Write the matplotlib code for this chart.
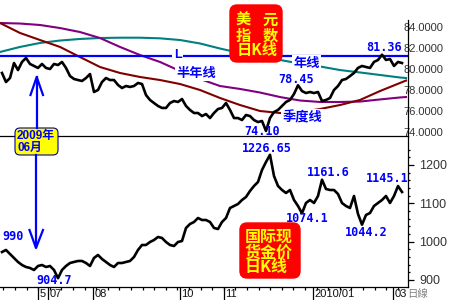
import numpy as np
import matplotlib
matplotlib.use('Agg')
import matplotlib.pyplot as plt
from matplotlib.patches import FancyBboxPatch
from matplotlib.lines import Line2D
from matplotlib.ticker import FixedLocator
import matplotlib.transforms as mtransforms

plt.rcParams['font.family'] = ['Liberation Sans', 'Noto Sans CJK SC', 'DejaVu Sans']

# ---------------- data ----------------
usd_close = [79.62, 78.76, 79.14, 80.57, 79.90, 80.67, 81.05, 80.48, 80.29, 80.10,
             80.48, 80.10, 80.00, 80.48, 80.38, 80.67, 80.10, 79.33, 79.05, 78.95,
             78.86, 79.14, 79.52, 77.81, 78.00, 78.76, 79.14, 78.95, 78.95, 78.48,
             78.19, 78.38, 78.29, 78.38, 78.67, 78.57, 77.52, 77.05, 76.76, 76.48,
             76.29, 76.29, 76.76, 76.95, 76.86, 77.14, 76.48, 76.10, 75.81, 75.81,
             75.52, 75.71, 75.33, 75.81, 76.19, 76.29, 76.76, 76.10, 75.33, 75.33,
             75.14, 75.62, 75.52, 75.14, 74.95, 75.05, 74.10, 75.33, 75.90, 76.10,
             76.48, 76.86, 77.05, 77.62, 78.45, 77.90, 77.71, 77.81, 77.71, 77.81,
             76.95, 77.05, 77.24, 78.00, 78.38, 78.95, 79.05, 79.33, 79.62, 80.10,
             80.29, 80.19, 80.10, 80.67, 80.86, 81.36, 80.86, 80.95, 80.29, 80.67, 80.57]

usd_ma_quarter = [84.38, 83.43, 82.76, 82.10, 81.14, 80.19, 79.62, 79.24, 78.95, 78.57, 78.00,
                  77.24, 76.57, 76.00, 75.81, 75.90, 76.19, 76.57, 77.05, 77.90, 78.67, 78.90]
usd_ma_halfyear = [84.38, 84.33, 84.19, 83.90, 83.52, 82.95, 82.10, 81.33, 80.67, 79.81, 79.05,
                   78.38, 78.10, 77.76, 77.33, 77.00, 76.86, 76.86, 76.90, 77.10, 77.29, 77.33]
usd_ma_year = [81.62, 82.10, 82.48, 82.71, 82.86, 82.95, 82.98, 82.98, 82.92, 82.76, 82.43,
               81.95, 81.52, 81.14, 80.86, 80.52, 80.24, 79.90, 79.67, 79.43, 79.19, 79.14]
ma_days = [0, 10, 20, 30, 40, 50, 60, 70, 80, 90, 100,
           110, 120, 130, 140, 150, 160, 170, 180, 190, 200, 203]
usd_L_level = 81.25

gold_close = [973.0, 978.3, 967.8, 957.4, 947.0, 939.1, 933.9, 931.3, 926.1, 936.5,
              939.1, 933.9, 936.5, 926.1, 904.7, 926.1, 936.5, 944.3, 947.0, 949.6,
              949.6, 944.3, 936.5, 957.4, 965.2, 954.8, 947.0, 939.1, 933.9, 944.3,
              944.3, 947.0, 949.6, 960.0, 978.3, 991.3, 991.3, 999.1, 1004.3, 1012.2,
              1009.6, 999.1, 991.3, 988.7, 999.1, 1001.7, 1035.7, 1046.1, 1051.3, 1061.7,
              1056.5, 1056.5, 1051.3, 1035.7, 1033.0, 1051.3, 1061.7, 1087.8, 1093.0, 1098.3,
              1108.7, 1116.5, 1132.2, 1145.2, 1155.7, 1187.0, 1207.8, 1226.65, 1171.3, 1145.2,
              1134.8, 1127.0, 1134.8, 1108.7, 1093.0, 1074.1, 1100.9, 1108.7, 1100.9, 1119.1,
              1161.6, 1137.4, 1134.8, 1134.8, 1124.3, 1100.9, 1093.0, 1087.8, 1119.1, 1072.2,
              1044.2, 1069.6, 1074.8, 1093.0, 1100.9, 1108.7, 1119.1, 1100.9, 1119.1, 1145.1, 1129.6]

usd_yticks = [74, 76, 78, 80, 82, 84]
gold_yticks = [900, 1000, 1100, 1200]
x_tick_days = [19, 24, 46.5, 90, 112, 156.5, 196.5]
x_tick_labels = ['5', '07', '08', '10', '11', '2010/01', '03']

# ---------------- figure ----------------
fig = plt.figure(figsize=(4.5, 3.0), dpi=100)
fig.patch.set_facecolor('white')
W, H = 450.0, 300.0
axR = 408 / W

ax1 = fig.add_axes([0, 1 - 136 / H, axR, 136 / H])
ax2 = fig.add_axes([0, 1 - 287 / H, axR, 151 / H])

days_close = np.arange(len(usd_close)) * 2 + 1
days_gold = np.arange(len(gold_close)) * 2 + 1

# top panel
ax1.plot(ma_days, usd_ma_year, color='#008080', lw=1.5, zorder=2)
ax1.plot(ma_days, usd_ma_halfyear, color='#800080', lw=1.5, zorder=2)
ax1.plot(ma_days, usd_ma_quarter, color='#800000', lw=1.5, zorder=2)
ax1.axhline(usd_L_level, color='#0000ff', lw=1.6, zorder=3)
ax1.plot(days_close, usd_close, color='black', lw=1.9, zorder=4)
ax1.set_xlim(0, 204)
ax1.set_ylim(73.62, 86.57)

for s in ['left', 'top']:
    ax1.spines[s].set_visible(False)
ax1.spines['right'].set_bounds(73.62, 84.7)
for s in ['right', 'bottom']:
    ax1.spines[s].set_linewidth(0.9)
ax1.set_xticks([])
ax1.yaxis.tick_right()
ax1.set_yticks(usd_yticks)
ax1.set_yticklabels(['%.4f' % v for v in usd_yticks])
ax1.tick_params(axis='y', length=0, pad=-3, labelsize=8, labelcolor='#333333')
ax1.set_facecolor('none')

# bottom panel
ax2.plot(days_gold, gold_close, color='black', lw=1.9, zorder=4)
ax2.set_xlim(0, 204)
ax2.set_ylim(881.7, 1275.65)
for s in ['left', 'top']:
    ax2.spines[s].set_visible(False)
for s in ['right', 'bottom']:
    ax2.spines[s].set_linewidth(0.9)
ax2.yaxis.tick_right()
ax2.set_yticks(gold_yticks)
ax2.yaxis.set_minor_locator(FixedLocator(np.arange(900, 1260, 20)))
ax2.tick_params(axis='y', which='major', direction='out', length=4, width=0.9, pad=4,
                labelsize=9, labelcolor='#333333')
ax2.tick_params(axis='y', which='minor', direction='out', length=1.5, width=0.9)

ax2.set_xticks(x_tick_days)
ax2.set_xticklabels([])
ax2.xaxis.set_minor_locator(FixedLocator(np.arange(1.7, 204, 5.8)))
ax2.tick_params(axis='x', which='major', direction='out', length=9, width=0.9)
ax2.tick_params(axis='x', which='minor', direction='out', length=2.2, width=0.9)
tr = mtransforms.offset_copy(ax2.get_xaxis_transform(), fig=fig, x=1.5, y=-2, units='dots')
for d, lab in zip(x_tick_days, x_tick_labels):
    ax2.text(d, 0, lab, transform=tr, ha='left', va='top', fontsize=8, color='#111111')
ax2.set_facecolor('none')

# ---------------- overlay annotations (pixel coordinates) ----------------
ov = fig.add_axes([0, 0, 1, 1], zorder=10)
ov.set_xlim(0, W)
ov.set_ylim(H, 0)
ov.axis('off')
ov.patch.set_alpha(0)

blue = '#0000ff'
mono = dict(family=['DejaVu Sans Mono'], fontweight='bold', color=blue, fontsize=8.5,
            ha='center', va='center')
for x, y, s in [(384, 47.5, '81.36'), (296, 79.5, '78.45'), (262, 131.5, '74.10'),
                (267, 148.5, '1226.65'), (328, 172.5, '1161.6'), (387, 178, '1145.1'),
                (307, 218, '1074.1'), (366, 232, '1044.2'), (13.5, 236.5, '990'),
                (54.5, 281, '904.7')]:
    ov.text(x, y, s, **mono)

wbox = dict(fc='white', ec='none', pad=1.0)
cjk = dict(fontweight='bold', color=blue, ha='center', va='center',
           family=['Noto Sans CJK SC', 'DejaVu Sans'])
ov.text(177.5, 55, 'L', fontsize=9, fontweight='bold', color=blue, ha='center', va='center',
        bbox=wbox)
ov.text(196, 73, '半年线', fontsize=9.5, bbox=wbox, **cjk)
ov.text(306.5, 63.5, '年线', fontsize=9.5, bbox=wbox, **cjk)
ov.text(302.5, 117, '季度线', fontsize=9.5, bbox=wbox, **cjk)

# red title boxes
yel = '#ffff00'
red = '#ff0000'
ov.add_patch(FancyBboxPatch((230, 5), 52, 57, boxstyle='round,pad=0,rounding_size=7',
                            fc=red, ec=red))
tk = dict(color=yel, fontweight='bold', fontsize=11, ha='center', va='center',
          family=['Noto Sans CJK SC', 'DejaVu Sans'])
ov.text(243.5, 19.5, '美', **tk)
ov.text(270, 19.5, '元', **tk)
ov.text(243.5, 35.5, '指', **tk)
ov.text(270, 35.5, '数', **tk)
ov.text(257, 50.5, '日K线', **tk)

ov.add_patch(FancyBboxPatch((240, 223), 60, 55, boxstyle='round,pad=0,rounding_size=7',
                            fc=red, ec=red))
tk2 = dict(tk)
tk2['fontsize'] = 11.5
ov.text(268.5, 236.5, '国际现', **tk2)
ov.text(268.5, 252.5, '货金价', **tk2)
ov.text(266, 267, '日K线', **tk2)

# yellow date box
ov.add_patch(FancyBboxPatch((15, 128), 43, 27, boxstyle='round,pad=0,rounding_size=5',
                            fc=yel, ec='#0000a0', lw=0.8))
ov.text(17, 136.5, '2009年', color=blue, fontweight='bold', fontsize=8.5, ha='left',
        va='center', family=['Liberation Sans', 'Noto Sans CJK SC'])
ov.text(17, 148, '06月', color=blue, fontweight='bold', fontsize=8.5, ha='left',
        va='center', family=['Liberation Sans', 'Noto Sans CJK SC'])

# arrows
alw = 1.6
ov.add_line(Line2D([36.7, 36.7], [77, 128], color=blue, lw=alw))
ov.add_line(Line2D([30.5, 36.7, 43], [95, 77, 95], color=blue, lw=alw))
ov.add_line(Line2D([36, 36], [155, 247], color=blue, lw=alw))
ov.add_line(Line2D([29.5, 36, 43], [230, 248, 230], color=blue, lw=alw))

# bottom-right marker
ov.text(407, 293.5, '日線', color='#808080', fontsize=7.5, ha='left', va='center',
        family=['Noto Sans CJK TC', 'DejaVu Sans'])

fig.savefig('out.png', dpi=100)
